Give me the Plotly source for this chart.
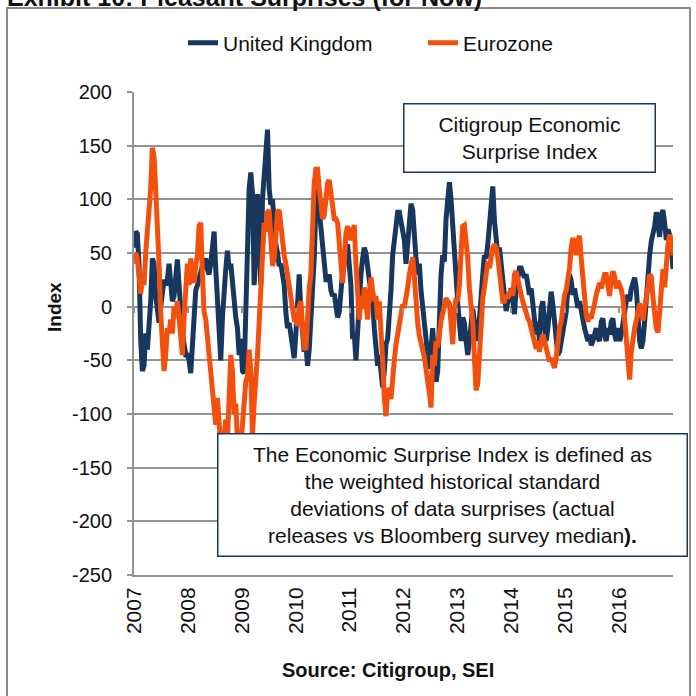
import pandas as pd
import plotly.graph_objects as go

# ---------------- data ----------------
title_text = "Exhibit 10: Pleasant Surprises (for Now)"
series_names = ["United Kingdom", "Eurozone"]
year_ticks = [str(y) for y in range(2007, 2017)]
y_ticks = [200, 150, 100, 50, 0, -50, -100, -150, -200, -250]
y_tick_labels = ["200", "150", "100", "50", "0", "-50", "-100", "-150", "-200", "-250"]

# United Kingdom, sampled about every 11 days from Jan 2007 to Jan 2017
uk_2007_2008 = [55, 70, 68, 40, -30, -60, -55, -25, -40, -20, 5, 45, 40, 10, -10, -15, 0, 15, 25, 20,
                25, 40, 25, 5, 10, 30, 44, 20, -5, -25, -35, -45, -45, -50, -62, -35, 0, 15, 20, 28,
                35, 38, 40, 45, 35, 30, 40, 55, 70, 35, 0, -25, -50, -10, 20, 35, 52, 35, 40, 20,
                5, -10, -20, -45]
uk_2009_2010 = [-30, -60, -62, 0, 60, 110, 125, 105, 20, 50, 105, 60, 20, 100, 120, 140, 165, 110, 95, 100,
                75, 58, 50, 38, 40, 30, 20, -5, -20, -15, -28, -40, -48, -25, 15, 30, -5, -25, -42, -35,
                -55, -40, -10, 10, 45, 95, 110, 90, 75, 60, 42, 25, 25, 30, 15, 10, 12, 0, -10, -5,
                18, 32, 40, 55, 58, 40, 20]
uk_2011_2012 = [-30, -25, -50, -15, 15, 30, 45, 55, 50, 30, 25, 15, 5, -20, -45, -55, -45, -62, -75, -60,
                -35, -30, -12, 15, 48, 65, 75, 88, 88, 78, 72, 62, 40, 58, 82, 96, 90, 62, 45, 30,
                40, 15, 0, -15, -40, -45, -58, -38, -20, -45, -70, -60, -12, 30, 48, 42, 82, 102, 116, 100,
                70, 45, 28, 3, -15, -32]
uk_2013_2014 = [-10, -15, -32, -45, -32, -14, -2, -14, -20, -32, -7, 11, 30, 48, 45, 58, 82, 106, 112, 80,
                62, 48, 55, 40, 17, 2, -4, 5, 11, 17, 5, -7, 17, 30, 36, 36, 30, 27, 30, 17,
                11, 17, 5, -14, -26, -14, -32, -1, 5, -14, -32, -20, 5, 14, 2, -14, -32, -45, -42, -32,
                -20, -14]
uk_2015_2016 = [-5, 17, 30, 24, 11, 17, 5, -1, 5, -5, -14, -20, -26, -32, -26, -36, -32, -26, -20, -29,
                -32, -14, -11, -26, -32, -20, -26, -14, -11, -26, -32, -20, -32, -26, -14, -1, 5, 11, 5, 17,
                24, 27, 17, -14, -32, -39, -32, -14, 11, 30, 48, 61, 67, 75, 88, 78, 65, 86, 90, 78,
                62, 72, 67, 55, 35]

# Eurozone, same sampling dates
ez_2007_2008 = [40, 50, 45, 20, 12, 25, 20, 50, 70, 75, 110, 148, 140, 110, 80, 40, -5, -40, -60, -45,
                -20, -25, -12, -25, 0, -10, 5, -10, -35, -45, -10, 25, 40, 20, 45, 30, 22, 38, 48, 75,
                78, 30, -5, -12, -30, -42, -60, -80, -95, -110, -85, -120, -130, -140, -120, -105, -125, -85, -45, -60,
                -100, -90, -125, -130]
ez_2009_2010 = [-130, -110, -85, -70, -65, -40, -60, -120, -90, -70, -45, -15, 25, 60, 78, 70, 88, 90, 65, 38,
                45, 72, 88, 90, 75, 58, 48, 40, 30, 25, 15, 0, -12, -12, -18, 0, 5, -20, -38, -40,
                -5, 17, 30, 85, 115, 128, 128, 110, 95, 82, 85, 100, 115, 118, 108, 92, 82, 82, 78, 60,
                38, 22, 40, 68, 75, 70, 62]
ez_2011_2012 = [70, 76, 40, 0, -12, 10, -2, 18, 5, -12, 12, 27, 15, 5, 10, -12, 5, -18, -50, -85,
                -102, -80, -76, -86, -58, -50, -35, -25, -18, -6, 2, -1, 6, 18, 30, 42, 46, 28, 3, -15,
                -27, -33, -40, -47, -58, -67, -80, -94, -45, -55, -32, -38, -20, -13, -6, 3, 8, 5, 3, -16,
                -35, -5, 8, 5, 20, 50]
ez_2013_2014 = [75, 76, 62, 45, 17, 5, -15, -48, -78, -72, -38, -14, 8, 18, 30, 42, 36, 48, 55, 58,
                55, 46, 28, 11, 5, 5, 11, 8, 14, 16, 10, 30, 33, 24, 14, 11, 5, -1, -7, -11,
                -14, -20, -26, -32, -39, -32, -42, -32, -26, -32, -39, -45, -51, -48, -54, -57, -48, -32, -20, -14,
                2, 11]
ez_2015_2016 = [15, 24, 36, 55, 64, 58, 48, 61, 66, 45, 28, 5, -8, -14, -7, -11, -1, 3, 11, 17,
                22, 17, 24, 30, 30, 15, 10, 26, 33, 28, 17, 24, 20, 16, 8, -10, -28, -55, -68, -42,
                -26, -20, -13, -5, 3, -3, -13, -1, 6, 18, 30, 28, 8, -8, -20, -24, -5, 25, 35, 18,
                45, 58, 67, 62, 48]

box1_text = "Citigroup Economic<br>Surprise Index"
box2_text = ("The Economic Surprise Index is defined as<br>the weighted historical standard<br>"
             "deviations of data surprises (actual<br>releases vs Bloomberg survey median<b>).</b>")
y_title = "Index"
x_title = "Source: Citigroup, SEI"

# ---------------- build ----------------
uk = uk_2007_2008 + uk_2009_2010 + uk_2011_2012 + uk_2013_2014 + uk_2015_2016
ez = ez_2007_2008 + ez_2009_2010 + ez_2011_2012 + ez_2013_2014 + ez_2015_2016
dates = pd.date_range("2007-01-01", "2017-01-01", periods=len(uk))
tick_dates = [f"{y}-01-01" for y in year_ticks]

FONT = "Liberation Sans, Arial, sans-serif"
NAVY = "#17375E"
ORANGE = "#F2500C"
GRID = "#939393"
TXT = "#111111"

# plot area in page px: x 134-673, y 92-575 (page body margin removed below)
W = H = 696
PX0, PX1, PY0, PY1 = 134, 673, 92, 575
PW, PH = PX1 - PX0, PY1 - PY0


def px(x):
    return (x - PX0) / PW


def py(y):
    return (PY1 - y) / PH


fig = go.Figure()
fig.add_trace(go.Scatter(x=dates, y=uk, mode="lines", name=series_names[0],
                         line=dict(color=NAVY, width=5)))
fig.add_trace(go.Scatter(x=dates, y=ez, mode="lines", name=series_names[1],
                         line=dict(color=ORANGE, width=5)))
# empty trace to carry the tick marks along the zero line
fig.add_trace(go.Scatter(x=[], y=[], xaxis="x2", showlegend=False, hoverinfo="skip"))

fig.update_layout(
    width=W, height=H,
    margin=dict(l=PX0, r=W - PX1, t=PY0, b=H - PY1),
    paper_bgcolor="white", plot_bgcolor="white",
    font=dict(family=FONT, size=20, color=TXT),
    showlegend=True,
    legend=dict(orientation="h", x=px(183), y=py(43), xanchor="left", yanchor="middle",
                font=dict(size=21, color=TXT), entrywidth=195, entrywidthmode="pixels",
                bgcolor="rgba(0,0,0,0)"),
    xaxis=dict(type="date", range=["2007-01-01", "2017-01-01"],
               tickvals=tick_dates, ticktext=year_ticks, tickangle=-90,
               tickfont=dict(size=21), ticks="", ticklabelstandoff=2,
               showgrid=False, zeroline=False,
               showline=True, linecolor=GRID, linewidth=2,
               automargin=False),
    xaxis2=dict(type="date", overlaying="x", matches="x", anchor="free", position=250 / 450,
                tickvals=tick_dates, ticks="outside", ticklen=5, tickwidth=1.5, tickcolor=GRID,
                showticklabels=False, showgrid=False, showline=False, zeroline=False),
    yaxis=dict(range=[-250, 200], tickvals=y_ticks, ticktext=y_tick_labels, tickfont=dict(size=20),
               ticks="outside", ticklen=5, tickwidth=1.5, tickcolor=GRID, ticklabelstandoff=11,
               showgrid=True, gridcolor=GRID, gridwidth=1.5, zeroline=False,
               showline=True, linecolor=GRID, linewidth=2,
               automargin=False),
)

# outer frame around the exhibit
fig.add_shape(type="rect", xref="paper", yref="paper",
              x0=px(7), x1=px(690), y0=py(710), y1=py(8),
              line=dict(color="#8a8a8a", width=2), fillcolor="rgba(0,0,0,0)", layer="below")

# clipped exhibit title at top (the reference shows only its lower part)
fig.add_annotation(text=f"<b>{title_text}</b>", xref="paper", yref="paper",
                   x=px(5), y=py(-3), xanchor="left", yanchor="middle",
                   showarrow=False, font=dict(size=25, color=TXT))

# axis titles
fig.add_annotation(text=f"<b>{y_title}</b>", xref="paper", yref="paper",
                   x=px(54), y=py(307), xanchor="center", yanchor="middle", textangle=-90,
                   showarrow=False, font=dict(size=19, color=TXT))
fig.add_annotation(text=f"<b>{x_title}</b>", xref="paper", yref="paper",
                   x=px(387.5), y=py(670), xanchor="center", yanchor="middle",
                   showarrow=False, font=dict(size=20, color=TXT))

# text boxes
fig.add_annotation(text=box1_text, xref="paper", yref="paper",
                   x=px(529), y=py(137.5), xanchor="center", yanchor="middle",
                   showarrow=False, font=dict(size=21, color=TXT),
                   width=246, height=63, bgcolor="white", bordercolor=NAVY, borderwidth=1.5, borderpad=2)
fig.add_annotation(text=box2_text, xref="paper", yref="paper",
                   x=px(452), y=py(495), xanchor="center", yanchor="middle",
                   showarrow=False, font=dict(size=21, color=TXT),
                   width=464, height=117, bgcolor="white", bordercolor=NAVY, borderwidth=1.5, borderpad=2)

fig.write_html("out.html", config={"displayModeBar": False},
               post_script="document.body.style.margin='0';")
